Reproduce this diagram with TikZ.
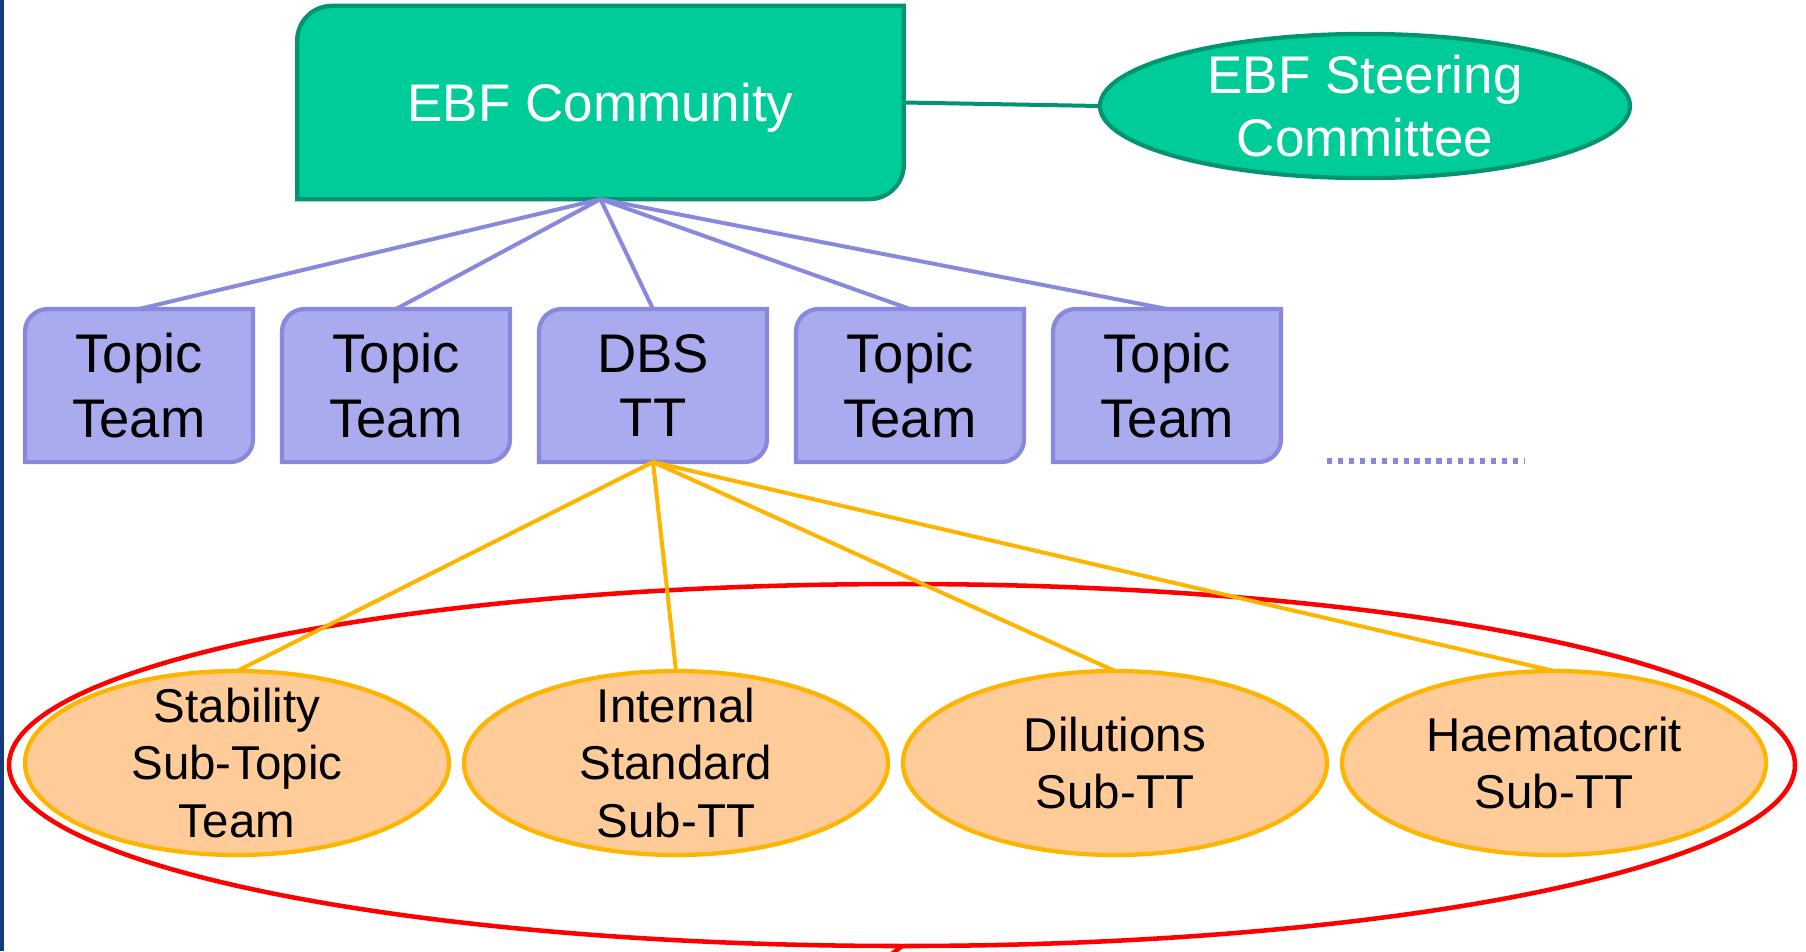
\documentclass[tikz,border=0pt]{standalone}
\usepackage{fontspec}
\setmainfont{Liberation Sans}
\usetikzlibrary{shapes.geometric,backgrounds}

\definecolor{ebfgreen}{RGB}{0,204,153}
\definecolor{ebfdark}{RGB}{0,148,112}
\definecolor{teamfill}{RGB}{170,170,238}
\definecolor{teamedge}{RGB}{136,136,221}
\definecolor{subfill}{RGB}{255,204,153}
\definecolor{subedge}{RGB}{255,180,0}
\definecolor{slidenavy}{RGB}{20,58,125}

\tikzset{every picture/.style={line width=0.75pt}}

\begin{document}
\begin{tikzpicture}[x=0.75pt,y=0.75pt,yscale=-1,
  ebfbox/.style={minimum width=455pt, minimum height=145pt, inner sep=0pt, outer sep=0pt, text depth=0pt, text=white, font=\fontsize{39.75}{47.25}\selectfont},
  ebfedge/.style={draw=ebfdark, fill=ebfgreen, line width=3.2pt},
  steerell/.style={ellipse, draw=ebfdark, fill=ebfgreen, line width=3.2pt, minimum width=397.5pt, minimum height=103.5pt, inner sep=0pt, outer sep=0pt, text=white, align=center, font=\fontsize{39.75}{47.25}\selectfont},
  teambox/.style={minimum width=171pt, minimum height=114.75pt, inner sep=0pt, outer sep=0pt, align=center, font=\fontsize{40.8}{48.4}\selectfont},
  teamshape/.style={draw=teamedge, fill=teamfill, line width=3.2pt},
  subell/.style={ellipse, draw=subedge, fill=subfill, line width=3.2pt, minimum width=318pt, minimum height=138pt, inner xsep=0pt, inner ysep=-30pt, outer sep=0pt, align=center, font=\fontsize{35.6}{43.2}\selectfont},
  teamlink/.style={draw=teamedge, line width=3pt},
  sublink/.style={draw=subedge, line width=3pt}]
\useasboundingbox (0,0) rectangle (1806,951);
\fill[slidenavy] (0,0) rectangle (4,951);

\node[ebfbox] (ebf) at (600.5,102.5) {EBF Community};
\node[steerell] (steer) at (1365,106) {EBF Steering\\Committee};

\node[teambox] (t1) at (139,385.5) {Topic\\Team};
\node[teambox] (t2) at (396,385.5) {Topic\\Team};
\node[teambox] (dbs) at (653,385.5) {DBS\\TT};
\node[teambox] (t4) at (910,385.5) {Topic\\Team};
\node[teambox] (t5) at (1167,385.5) {Topic\\Team};

\node[subell] (stab) at (237,763) {Stability\\Sub-Topic\\Team};
\node[subell] (istd) at (676,763) {Internal\\Standard\\Sub-TT};
\node[subell] (dil) at (1115,763) {Dilutions\\Sub-TT};
\node[subell] (hct) at (1554,763) {Haematocrit\\Sub-TT};

\node[ellipse, draw=red, line width=3.4pt, minimum width=1339.5pt, minimum height=271.5pt, inner sep=0pt, outer sep=0pt] (dbsgroup) at (902,765) {};

\begin{scope}[on background layer]
\draw[ebfedge] (ebf.south west) [rounded corners=26pt] -- (ebf.north west) [sharp corners] -- (ebf.north east) [rounded corners=26pt] -- (ebf.south east) [sharp corners] -- cycle;
\draw[teamshape] (t1.south west) [rounded corners=17pt] -- (t1.north west) [sharp corners] -- (t1.north east) [rounded corners=17pt] -- (t1.south east) [sharp corners] -- cycle;
\draw[teamshape] (t2.south west) [rounded corners=17pt] -- (t2.north west) [sharp corners] -- (t2.north east) [rounded corners=17pt] -- (t2.south east) [sharp corners] -- cycle;
\draw[teamshape] (dbs.south west) [rounded corners=17pt] -- (dbs.north west) [sharp corners] -- (dbs.north east) [rounded corners=17pt] -- (dbs.south east) [sharp corners] -- cycle;
\draw[teamshape] (t4.south west) [rounded corners=17pt] -- (t4.north west) [sharp corners] -- (t4.north east) [rounded corners=17pt] -- (t4.south east) [sharp corners] -- cycle;
\draw[teamshape] (t5.south west) [rounded corners=17pt] -- (t5.north west) [sharp corners] -- (t5.north east) [rounded corners=17pt] -- (t5.south east) [sharp corners] -- cycle;
\end{scope}

% links
\draw[draw=ebfdark, line width=3pt] (ebf.east) -- (steer.west);
\draw[teamlink] (ebf.south) -- (t1.north);
\draw[teamlink] (ebf.south) -- (t2.north);
\draw[teamlink] (ebf.south) -- (dbs.north);
\draw[teamlink] (ebf.south) -- (t4.north);
\draw[teamlink] (ebf.south) -- (t5.north);
\draw[sublink] (dbs.south) -- (stab.north);
\draw[sublink] (dbs.south) -- (istd.north);
\draw[sublink] (dbs.south) -- (dil.north);
\draw[sublink] (dbs.south) -- (hct.north);

\coordinate (more) at (1327,461);
\coordinate (moreend) at (1525,461);
\draw[teamedge, line width=3.9pt, dash pattern=on 3.9pt off 4.3pt] (more) -- (moreend);

\coordinate (tail) at (884,960);
\draw[red, line width=3.4pt] (dbsgroup.south) -- (tail);
\end{tikzpicture}
\end{document}
